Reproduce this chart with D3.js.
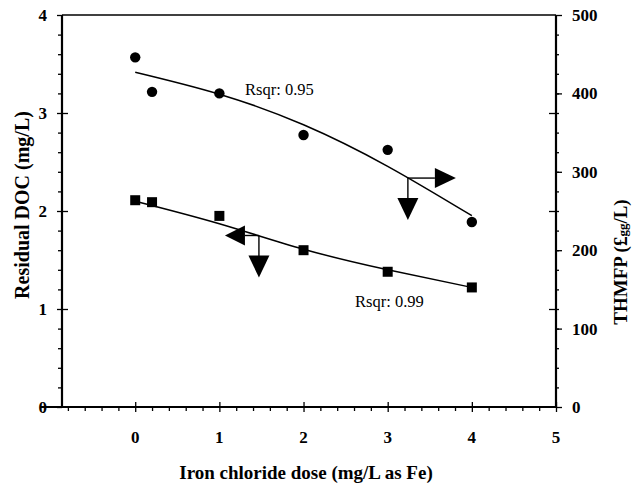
<!DOCTYPE html>
<html>
<head>
<meta charset="utf-8">
<script src="https://cdn.jsdelivr.net/npm/d3@7/dist/d3.min.js"></script>
<style>
  html, body { margin: 0; padding: 0; background: #fff; }
  svg { display: block; font-family: "Liberation Serif", "Times New Roman", serif; }
</style>
</head>
<body>
<svg id="chart" width="633" height="486"></svg>
<script>
// Iron chloride dose (mg/L as Fe)
const doses = [0, 0.2, 1, 2, 3, 4];
// Residual DOC (mg/L), left axis, square markers
const docValues = [2.11, 2.09, 1.95, 1.60, 1.38, 1.22];
// THMFP, right axis, circle markers
const thmfpValues = [446, 402, 400, 347, 328, 236];
// Fitted trend curves sampled at whole doses
const fitDoses = [0, 1, 2, 3, 4];
const docFit = [2.10, 1.87, 1.61, 1.40, 1.22];
const thmfpFit = [427, 399, 360, 307, 244];
const docR2 = "Rsqr: 0.99";
const thmfpR2 = "Rsqr: 0.95";
// Axis ticks
const xTicks = [0, 1, 2, 3, 4, 5];
const leftTicks = [0, 1, 2, 3, 4];
const rightTicks = [0, 100, 200, 300, 400, 500];

const svg = d3.select("#chart");
const plotL = 62, plotR = 556, plotT = 15, plotB = 407;

const x = d3.scaleLinear().domain([-0.87, 5]).range([plotL, plotR]);
const yL = d3.scaleLinear().domain([0, 4]).range([plotB, plotT]);
const yR = d3.scaleLinear().domain([0, 500]).range([plotB, plotT]);

const ink = "#000";
const tickFont = 17;

// frame top line
svg.append("line").attr("x1", plotL).attr("x2", plotR).attr("y1", plotT).attr("y2", plotT)
  .attr("stroke", ink).attr("stroke-width", 1.6);

// bottom axis: major ticks cross the line, minor ticks hang below
const xMinor = d3.range(-0.8, 5.001, 0.2).filter(v => Math.abs(v - Math.round(v)) > 1e-6);
const gx = svg.append("g").attr("transform", `translate(0,${plotB})`);
gx.call(d3.axisBottom(x).tickValues(xMinor).tickSize(4).tickFormat(""));
gx.append("g").call(d3.axisBottom(x).tickValues(xTicks).tickSize(5).tickFormat(""));
gx.append("g").call(d3.axisTop(x).tickValues(xTicks).tickSize(5).tickFormat(""));
gx.selectAll("text").remove();
gx.selectAll(".domain").remove();
svg.append("line").attr("x1", plotL - 22).attr("x2", plotR).attr("y1", plotB).attr("y2", plotB)
  .attr("stroke", ink).attr("stroke-width", 2.2);
svg.append("g").selectAll("text").data(xTicks).join("text")
  .attr("x", d => x(d)).attr("y", 437).attr("dy", "0.35em")
  .attr("text-anchor", "middle").attr("font-size", tickFont).attr("font-weight", "bold")
  .text(d => d);

// left axis
const yMinor = d3.range(0, 4.001, 0.2).filter(v => Math.abs(v - Math.round(v)) > 1e-6);
const gl = svg.append("g").attr("transform", `translate(${plotL},0)`);
gl.call(d3.axisLeft(yL).tickValues(yMinor).tickSize(4).tickFormat(""));
gl.append("g").call(d3.axisLeft(yL).tickValues(leftTicks).tickSize(5).tickFormat(""));
gl.append("g").call(d3.axisRight(yL).tickValues(leftTicks.slice(1, 4)).tickSize(6).tickFormat(""));
gl.selectAll(".domain").remove();
svg.append("line").attr("x1", plotL).attr("x2", plotL).attr("y1", plotT).attr("y2", plotB)
  .attr("stroke", ink).attr("stroke-width", 2.2);
svg.append("g").selectAll("text").data(leftTicks).join("text")
  .attr("x", 47).attr("y", d => yL(d)).attr("dy", "0.35em")
  .attr("text-anchor", "end").attr("font-size", tickFont).attr("font-weight", "bold")
  .text(d => d);

// right axis: its own ticks outward, mirrored DOC ticks
const gr = svg.append("g").attr("transform", `translate(${plotR},0)`);
gr.call(d3.axisRight(yL).tickValues(yMinor).tickSize(3).tickFormat(""));
gr.append("g").call(d3.axisRight(yR).tickValues(rightTicks).tickSize(6).tickFormat(""));
gr.append("g").call(d3.axisLeft(yL).tickValues(leftTicks.slice(1, 4)).tickSize(7).tickFormat(""));
gr.append("g").call(d3.axisRight(yL).tickValues(leftTicks.slice(1, 4)).tickSize(3).tickFormat(""));
gr.selectAll(".domain").remove();
svg.append("line").attr("x1", plotR).attr("x2", plotR).attr("y1", plotT).attr("y2", plotB)
  .attr("stroke", ink).attr("stroke-width", 2.2);
svg.append("g").selectAll("text").data(rightTicks).join("text")
  .attr("x", 572).attr("y", d => yR(d)).attr("dy", "0.35em")
  .attr("text-anchor", "start").attr("font-size", tickFont).attr("font-weight", "bold")
  .text(d => d);

svg.selectAll(".tick line").attr("stroke", ink).attr("stroke-width", 1.3);

// axis titles
svg.append("text").attr("transform", "translate(29,205) rotate(-90)")
  .attr("text-anchor", "middle").attr("font-size", 20).attr("font-weight", "bold")
  .text("Residual DOC (mg/L)");
const rt = svg.append("text").attr("transform", "translate(627,262) rotate(-90)")
  .attr("text-anchor", "middle").attr("font-size", 19).attr("font-weight", "bold");
rt.append("tspan").text("THMFP (£");
rt.append("tspan").attr("font-size", 13).text("gg");
rt.append("tspan").text("/L)");
svg.append("text").attr("x", 306).attr("y", 479)
  .attr("text-anchor", "middle").attr("font-size", 19).attr("font-weight", "bold")
  .text("Iron chloride dose (mg/L as Fe)");

// fitted curves
const thmfpLine = d3.line().x((d, i) => x(fitDoses[i])).y(d => yR(d)).curve(d3.curveNatural);
const docLine = d3.line().x((d, i) => x(fitDoses[i])).y(d => yL(d)).curve(d3.curveNatural);
svg.append("path").attr("d", thmfpLine(thmfpFit)).attr("fill", "none")
  .attr("stroke", ink).attr("stroke-width", 1.5);
svg.append("path").attr("d", docLine(docFit)).attr("fill", "none")
  .attr("stroke", ink).attr("stroke-width", 1.5);

// markers
svg.append("g").selectAll("circle").data(thmfpValues).join("circle")
  .attr("cx", (d, i) => x(doses[i])).attr("cy", d => yR(d)).attr("r", 5.2).attr("fill", ink);
svg.append("g").selectAll("rect").data(docValues).join("rect")
  .attr("x", (d, i) => x(doses[i]) - 5).attr("y", d => yL(d) - 5)
  .attr("width", 10).attr("height", 10).attr("fill", ink);

// fit labels
svg.append("text").attr("x", 245).attr("y", 95).attr("font-size", 16.5).text(thmfpR2);
svg.append("text").attr("x", 355).attr("y", 307).attr("font-size", 16.5).text(docR2);

// axis-pointer arrows anchored on each curve
function axisArrows(px, py, dir) {
  const g = svg.append("g");
  const hx = dir > 0 ? px + 27 : px - 14;
  const tipX = dir > 0 ? px + 48 : px - 34;
  g.append("line").attr("x1", px).attr("y1", py).attr("x2", hx).attr("y2", py)
    .attr("stroke", ink).attr("stroke-width", 1.4);
  g.append("path").attr("d", `M${hx},${py - 10}L${tipX},${py}L${hx},${py + 10}Z`).attr("fill", ink);
  g.append("line").attr("x1", px).attr("y1", py).attr("x2", px).attr("y2", py + 21)
    .attr("stroke", ink).attr("stroke-width", 1.4);
  g.append("path").attr("d", `M${px - 10.5},${py + 20}L${px},${py + 42}L${px + 10.5},${py + 20}Z`).attr("fill", ink);
}
axisArrows(x(3.24), yR(292), 1);
axisArrows(x(1.47), yL(1.75), -1);
</script>
</body>
</html>
